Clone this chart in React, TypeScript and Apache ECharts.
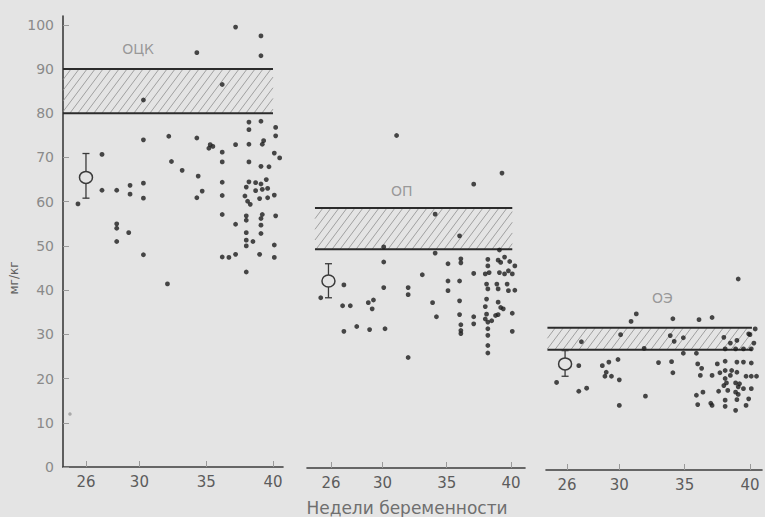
import React, { useEffect, useRef } from "react";
import * as echarts from "echarts";

// Week-of-pregnancy axis labels and value-axis labels (мг/кг)
const weekTicks = [26, 30, 35, 40];
const valueTicks = [0, 10, 20, 30, 40, 50, 60, 70, 80, 90, 100];

// Panel titles
const panelNames = ["ОЦК", "ОП", "ОЭ"];

// Normal ranges (lower, upper), мг/кг
const ockNorm = [80, 90];
const opNorm = [49.5, 58.8];
const oeNorm = [27.2, 32.2];

// Mean ± deviation at 26 weeks: [week, mean, low, high]
const ockMean = [26.0, 65.5, 60.8, 70.9];
const opMean = [25.8, 42.3, 38.5, 46.2];
const oeMean = [25.85, 24.0, 21.2, 27.0];

// Individual observations: [week, value]
const ockPoints = [
  [25.4, 59.5], [27.2, 70.7], [27.2, 62.6], [28.3, 62.6], [28.3, 55.0], [28.3, 54.0], [28.3, 51.0],
  [29.3, 63.7], [29.3, 61.7], [29.2, 53.0], [30.3, 83.0], [30.3, 74.0], [30.3, 64.2], [30.3, 60.8],
  [30.3, 48.0], [32.1, 41.4], [32.2, 74.8], [32.4, 69.1], [33.2, 67.1], [34.3, 93.7], [34.3, 74.4],
  [34.4, 65.8], [34.7, 62.4], [34.3, 60.9], [35.3, 72.9], [35.5, 72.5], [35.2, 72.1], [36.2, 86.5],
  [36.2, 71.2], [36.2, 69.0], [36.2, 64.4], [36.2, 61.4], [36.2, 57.1], [36.2, 47.5], [36.7, 47.4],
  [37.2, 99.5], [37.2, 72.9], [37.2, 54.9], [37.2, 48.1], [38.0, 44.1], [38.2, 78.0], [38.2, 76.3],
  [38.2, 73.0], [38.2, 69.0], [38.2, 64.5], [38.0, 63.3], [37.9, 61.3], [38.1, 60.1], [38.3, 59.4],
  [38.0, 56.8], [38.0, 55.8], [38.0, 53.0], [38.0, 51.3], [38.0, 50.0], [38.5, 51.0], [38.7, 64.3],
  [38.7, 62.5], [39.1, 97.5], [39.1, 93.0], [39.1, 78.2], [39.2, 73.0], [39.1, 68.0], [39.1, 64.0],
  [39.2, 62.8], [39.0, 60.7], [39.2, 57.1], [39.1, 56.2], [39.1, 54.7], [39.1, 52.8], [39.0, 48.1],
  [39.7, 67.9], [39.5, 65.0], [39.6, 63.0], [39.6, 60.9], [39.3, 73.8], [40.2, 76.8], [40.2, 74.9],
  [40.1, 71.0], [40.5, 69.9], [40.1, 61.5], [40.2, 56.8], [40.1, 50.2], [40.1, 47.4],
];

const opPoints = [
  [25.2, 38.5], [27.0, 41.4], [26.9, 36.7], [27.5, 36.7], [27.0, 30.9], [28.0, 32.0], [28.9, 37.4],
  [29.3, 38.0], [29.2, 36.0], [29.0, 31.3], [30.1, 50.0], [30.1, 46.6], [30.1, 40.8], [30.2, 31.5],
  [31.1, 75.2], [32.0, 40.8], [32.0, 39.2], [32.0, 25.0], [33.1, 43.7], [33.9, 37.4], [34.1, 57.4],
  [34.1, 48.6], [34.2, 34.2], [35.1, 46.2], [35.1, 42.3], [35.1, 40.1], [36.0, 52.5], [36.1, 47.3],
  [36.1, 46.4], [36.0, 42.3], [36.0, 37.8], [36.0, 34.7], [36.1, 32.4], [36.1, 31.1], [36.1, 30.4],
  [37.1, 64.2], [37.1, 44.0], [37.1, 34.2], [37.1, 32.6], [38.0, 43.9], [38.3, 44.2], [38.2, 47.2],
  [38.2, 45.7], [38.1, 41.6], [38.2, 40.5], [38.1, 38.2], [38.0, 36.5], [38.1, 34.8], [38.0, 33.7],
  [38.2, 33.0], [38.5, 33.3], [38.2, 31.5], [38.2, 30.0], [38.2, 27.7], [38.2, 26.0], [38.8, 34.5],
  [38.9, 41.6], [39.0, 40.5], [39.0, 37.5], [39.0, 34.7], [39.0, 47.0], [39.1, 49.3], [39.1, 44.2],
  [39.2, 46.5], [39.2, 36.3], [39.3, 66.7], [39.4, 36.0], [39.5, 47.7], [39.5, 43.9], [39.7, 41.6],
  [39.8, 40.1], [39.8, 44.6], [39.9, 46.7], [40.1, 43.9], [40.1, 35.0], [40.1, 30.9], [40.3, 45.7],
  [40.3, 40.2],
];

const oePoints = [
  [25.2, 19.8], [26.9, 23.6], [26.9, 17.8], [27.5, 18.5], [27.1, 29.0], [28.7, 23.6], [29.2, 24.4],
  [29.9, 25.0], [29.0, 22.1], [28.9, 21.2], [29.4, 21.2], [30.0, 20.4], [30.1, 30.6], [30.0, 14.6],
  [30.9, 33.6], [31.3, 35.3], [31.9, 27.5], [32.0, 16.7], [33.0, 24.3], [33.9, 30.4], [34.0, 24.5],
  [34.1, 34.2], [34.1, 22.0], [34.2, 29.1], [34.9, 29.9], [34.9, 26.4], [35.9, 26.4], [36.1, 34.0],
  [37.1, 34.5], [36.0, 24.0], [36.3, 23.0], [36.2, 21.4], [37.1, 21.4], [36.4, 17.6], [35.9, 16.9],
  [36.0, 14.8], [37.1, 14.6], [37.0, 15.1], [37.5, 24.0], [37.7, 22.0], [37.6, 17.8], [38.0, 30.0],
  [38.1, 27.4], [38.1, 24.6], [38.1, 22.5], [38.1, 20.7], [38.0, 19.1], [38.2, 19.7], [38.3, 18.0],
  [38.1, 15.8], [38.1, 14.4], [38.5, 28.7], [38.5, 21.4], [38.6, 22.5], [38.9, 27.4], [38.9, 19.7],
  [38.9, 17.6], [38.9, 13.5], [39.0, 29.3], [39.0, 24.4], [39.0, 22.1], [39.0, 15.9], [39.1, 43.2],
  [39.1, 18.8], [39.1, 17.1], [39.2, 19.5], [39.5, 27.4], [39.5, 24.4], [39.5, 18.4], [39.7, 21.2],
  [39.7, 14.6], [39.9, 30.8], [39.9, 16.1], [40.0, 30.6], [40.1, 27.4], [40.1, 24.2], [40.1, 21.2],
  [40.1, 18.4], [40.3, 28.7], [40.4, 31.9], [40.5, 21.2],
];

// A single faint mark near the value axis
const faintPoints = [[24.8, 12.0]];

const BG = "#e4e4e4";
const INK = "#1d1d1d";
const FONT = "DejaVu Sans";

// Per-panel layout: grid placement, week range of the axis, band extent, title anchor
const panels = [
  { left: 63, width: 220, top: 16, xMin: 24.28, xMax: 40.75, band: [24.28, 40.0], title: [29.9, 94.6] },
  { left: 307, width: 218, top: 17, xMin: 24.13, xMax: 41.09, band: [24.75, 40.1], title: [31.5, 62.6] },
  { left: 546, width: 216, top: 19, xMin: 24.39, xMax: 40.92, band: [24.5, 40.15], title: [33.3, 39.0] },
];
const Y_MAX = 102;
const PLOT_H = 451;

function bandRender(params: any, api: any) {
  const tl = api.coord([api.value(0), api.value(3)]);
  const br = api.coord([api.value(1), api.value(2)]);
  const x0 = tl[0], yt = tl[1], x1 = br[0], yb = br[1];
  const h = yb - yt;
  const run = h * 0.75;
  const step = 8;
  const children: any[] = [];
  for (let c = x0 - run; c < x1; c += step) {
    let sx = c, sy = yb, ex = c + run, ey = yt;
    if (sx < x0) { sy = yb - (x0 - sx) * (h / run); sx = x0; }
    if (ex > x1) { ey = yt + (ex - x1) * (h / run); ex = x1; }
    if (sx >= ex) continue;
    children.push({
      type: "line",
      shape: { x1: sx, y1: sy, x2: ex, y2: ey },
      style: { stroke: "#8e8e8e", lineWidth: 0.8 },
    });
  }
  children.push({ type: "line", shape: { x1: x0, y1: yt, x2: x1, y2: yt }, style: { stroke: "#2b2b2b", lineWidth: 2 } });
  children.push({ type: "line", shape: { x1: x0, y1: yb, x2: x1, y2: yb }, style: { stroke: "#2b2b2b", lineWidth: 2 } });
  return { type: "group", children };
}

function meanRender(params: any, api: any) {
  const x = api.value(0);
  const c = api.coord([x, api.value(1)]);
  const lo = api.coord([x, api.value(2)]);
  const hi = api.coord([x, api.value(3)]);
  const st = { stroke: "#3a3a3a", lineWidth: 1.3 };
  return {
    type: "group",
    children: [
      { type: "line", shape: { x1: c[0], y1: hi[1], x2: c[0], y2: lo[1] }, style: st },
      { type: "line", shape: { x1: c[0] - 3.5, y1: hi[1], x2: c[0] + 3.5, y2: hi[1] }, style: st },
      { type: "line", shape: { x1: c[0] - 3.5, y1: lo[1], x2: c[0] + 3.5, y2: lo[1] }, style: st },
      { type: "ellipse", shape: { cx: c[0], cy: c[1], rx: 6.5, ry: 6 }, style: { fill: BG, stroke: "#3a3a3a", lineWidth: 1.5 } },
    ],
  };
}

export default function App() {
  const ref = useRef<HTMLDivElement>(null);

  useEffect(() => {
    document.body.style.margin = "0";
    document.body.style.background = BG;
    if (!ref.current) return;
    const chart = echarts.init(ref.current, null, { renderer: "svg" });

    const norms = [ockNorm, opNorm, oeNorm];
    const means = [ockMean, opMean, oeMean];
    const points = [ockPoints, opPoints, oePoints];

    const grid = panels.map((p) => ({ left: p.left, width: p.width, top: p.top, height: PLOT_H }));

    const xAxis = panels.map((p, i) => ({
      type: "value",
      gridIndex: i,
      min: p.xMin,
      max: p.xMax,
      splitLine: { show: false },
      axisLine: { show: true, onZero: false, lineStyle: { color: "#3c3c3c", width: 1.6 } },
      axisTick: { show: true, inside: true, length: 6, customValues: weekTicks, lineStyle: { color: "#9a9a9a" } },
      axisLabel: {
        show: true,
        customValues: weekTicks,
        margin: 7,
        color: "#5c5c5c",
        fontFamily: FONT,
        fontSize: 15,
      },
    }));

    const yAxis = panels.map((p, i) => ({
      type: "value",
      gridIndex: i,
      min: 0,
      max: Y_MAX,
      splitLine: { show: false },
      axisLine: { show: i === 0, lineStyle: { color: "#3c3c3c", width: 1.6 } },
      axisTick: { show: i === 0, inside: true, length: 6, customValues: valueTicks, lineStyle: { color: "#9a9a9a" } },
      axisLabel: {
        show: i === 0,
        customValues: valueTicks,
        margin: 9,
        color: "#8a8a8a",
        fontFamily: FONT,
        fontSize: 14,
      },
    }));

    const series: any[] = [];
    panels.forEach((p, i) => {
      series.push({
        type: "custom",
        xAxisIndex: i,
        yAxisIndex: i,
        clip: false,
        renderItem: bandRender,
        data: [[p.band[0], p.band[1], norms[i][0], norms[i][1]]],
        z: 1,
      });
      series.push({
        type: "scatter",
        xAxisIndex: i,
        yAxisIndex: i,
        symbolSize: 4.8,
        itemStyle: { color: INK },
        data: points[i],
        z: 3,
      });
      series.push({
        type: "custom",
        xAxisIndex: i,
        yAxisIndex: i,
        clip: false,
        renderItem: meanRender,
        data: [means[i]],
        z: 4,
      });
      series.push({
        type: "scatter",
        xAxisIndex: i,
        yAxisIndex: i,
        symbolSize: 0,
        silent: true,
        data: [[p.title[0], p.title[1]]],
        label: {
          show: true,
          position: "inside",
          formatter: () => panelNames[i],
          color: "#858585",
          fontFamily: FONT,
          fontSize: 14,
        },
        z: 5,
      });
    });
    series.push({
      type: "scatter",
      xAxisIndex: 0,
      yAxisIndex: 0,
      symbolSize: 3.5,
      itemStyle: { color: "#9a9a9a" },
      data: faintPoints,
      z: 3,
    });

    chart.setOption({
      animation: false,
      backgroundColor: BG,
      grid,
      xAxis,
      yAxis,
      series,
      graphic: [
        {
          type: "text",
          x: 407,
          y: 508,
          style: {
            text: "Недели беременности",
            fill: "#6f6f6f",
            font: `17px "${FONT}"`,
            align: "center",
            verticalAlign: "middle",
          },
        },
        {
          type: "text",
          x: 14,
          y: 278,
          rotation: Math.PI / 2,
          style: {
            text: "мг/кг",
            fill: "#606060",
            font: `12px "${FONT}"`,
            align: "center",
            verticalAlign: "middle",
          },
        },
      ],
    });

    return () => chart.dispose();
  }, []);

  return <div ref={ref} style={{ width: 765, height: 517 }} />;
}
